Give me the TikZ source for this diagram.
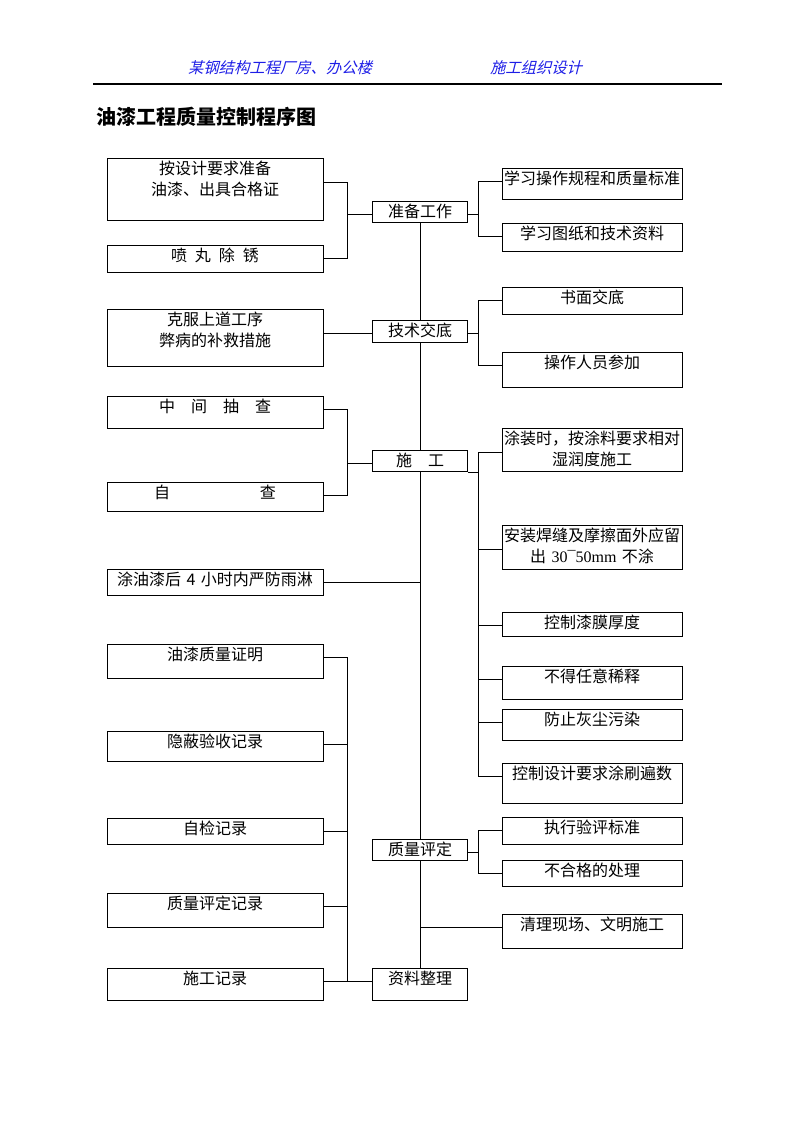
\documentclass[tikz,border=0pt]{standalone}
\usepackage{fontspec}
\newfontfamily\cjk{Noto Sans CJK SC}
\newfontfamily\cjkhead[FakeSlant=0.25]{Noto Sans CJK SC}
\newfontfamily\numfont{Liberation Serif}
\definecolor{headblue}{RGB}{30,30,230}
\tikzset{
  box/.style={draw, line width=0.75pt, anchor=north, inner sep=0pt, align=center, text height=12pt, font=\cjk\fontsize{12pt}{16pt}\selectfont},
  lbox/.style={box, text width=162pt, text depth=#1},
  cbox/.style={box, text width=71.25pt, text depth=#1},
  rbox/.style={box, text width=135pt, text depth=#1},
  head/.style={font=\cjkhead\fontsize{11.5pt}{14pt}\selectfont, text=headblue},
  line/.style={line width=0.75pt}
}
\begin{document}
\begin{tikzpicture}[x=0.75pt, y=-0.75pt]
    \useasboundingbox (0,0) rectangle (794,1123);
    % header
    \node[head] (hleft) at (280,68) {某钢结构工程厂房、办公楼};
    \node[head] (hright) at (536,68) {施工组织设计};
    \draw[line width=1pt] (93,84) -- (722,84);
    \node[anchor=west, inner sep=0pt, font=\cjk\bfseries\fontsize{15pt}{18pt}\selectfont] (title) at (96,117) {油漆工程质量控制程序图};

    % centre column
    \node[cbox=3.75pt] (zb) at (420,201) {准备工作};
    \node[cbox=4.5pt] (jd) at (420,320) {技术交底};
    \node[cbox=3.75pt] (sg) at (420,450) {施　工};
    \node[cbox=3.75pt] (zl) at (420,839) {质量评定};
    \node[cbox=12pt] (zz) at (420,968) {资料整理};

    % left column
    \node[lbox=34.5pt] (l1) at (215,158) {按设计要求准备\\油漆、出具合格证};
    \node[lbox=8.25pt] (l2) at (215,245) {喷\hspace{.5em}丸\hspace{.5em}除\hspace{.5em}锈};
    \node[lbox=30.75pt] (l3) at (215,309) {克服上道工序\\弊病的补救措施};
    \node[lbox=12pt] (l4) at (215,396) {中　间　抽　查};
    \node[lbox=9.75pt] (l5) at (215,482) {自\hspace{5.6em}查};
    \node[lbox=7.5pt] (l6) at (215,569) {涂油漆后 4 小时内严防雨淋};
    \node[lbox=13.5pt] (l7) at (215,644) {油漆质量证明};
    \node[lbox=10.5pt] (l8) at (215,731) {隐蔽验收记录};
    \node[lbox=7.5pt] (l9) at (215,818) {自检记录};
    \node[lbox=13.5pt] (l10) at (215,893) {质量评定记录};
    \node[lbox=12pt] (l11) at (215,968) {施工记录};

    % right column
    \node[rbox=11.25pt] (r1) at (592,168) {学习操作规程和质量标准};
    \node[rbox=9pt] (r2) at (592,223) {学习图纸和技术资料};
    \node[rbox=8.25pt] (r3) at (592,287) {书面交底};
    \node[rbox=14.25pt] (r4) at (592,352) {操作人员参加};
    \node[rbox=20.25pt] (r5) at (592,428) {涂装时，按涂料要求相对\\湿润度施工};
    \node[rbox=21pt] (r6) at (592,525) {安装焊缝及摩擦面外应留\\出 {\numfont 30¯50mm} 不涂};
    \node[rbox=6pt] (r7) at (592,612) {控制漆膜厚度};
    \node[rbox=12.75pt] (r8) at (592,666) {不得任意稀释};
    \node[rbox=11.25pt] (r9) at (592,709) {防止灰尘污染};
    \node[rbox=18pt] (r10) at (592,763) {控制设计要求涂刷遍数};
    \node[rbox=8.25pt] (r11) at (592,817) {执行验评标准};
    \node[rbox=7.5pt] (r12) at (592,860) {不合格的处理};
    \node[rbox=13.5pt] (r13) at (592,914) {清理现场、文明施工};

    % bracket lines and two-line tie points
    \coordinate (lb) at (347,0);
    \coordinate (rb) at (478,0);
    \coordinate (l1c) at ([yshift=-8pt]l1.mid east);
    \coordinate (r5c) at ([yshift=-8pt]r5.mid west);
    \coordinate (r6c) at ([yshift=-8pt]r6.mid west);

    % trunk
    \draw[line] (zb.south) -- (jd.north) (jd.south) -- (sg.north)
                (sg.south) -- (zl.north) (zl.south) -- (zz.north);

    % left side
    \draw[line] (l1c) -| (lb |- l2.mid east) -- (l2.mid east);
    \draw[line] (zb.mid west) -- (lb |- zb.mid west);
    \draw[line] (l3.east |- jd.mid west) -- (jd.mid west);
    \draw[line] (l4.mid east) -| (lb |- l5.mid east) -- (l5.mid east);
    \draw[line] (sg.mid west) -- (lb |- sg.mid west);
    \draw[line] (l6.mid east) -- (sg.south |- l6.mid east);
    \draw[line] (l7.mid east) -| (lb |- l11.mid east) -- (l11.mid east);
    \foreach \n in {l8,l9,l10}
        \draw[line] (\n.mid east) -- (lb |- \n.mid east);
    \draw[line] (zz.mid west) -- (lb |- zz.mid west);

    % right side
    \draw[line] (r1.mid west) -| (rb |- r2.mid west) -- (r2.mid west);
    \draw[line] (zb.mid east) -- (rb |- zb.mid east);
    \draw[line] (r3.mid west) -| (rb |- r4.mid west) -- (r4.mid west);
    \draw[line] (jd.mid east) -- (rb |- jd.mid east);
    \draw[line] (r5c) -| (rb |- r10.mid west) -- (r10.mid west);
    \draw[line] (r6c) -- (rb |- r6c);
    \foreach \n in {r7,r8,r9}
        \draw[line] (\n.mid west) -- (rb |- \n.mid west);
    \draw[line] (sg.south east) -- (rb |- sg.south east);
    \draw[line] (r11.mid west) -| (rb |- r12.mid west) -- (r12.mid west);
    \draw[line] (zl.mid east) -- (rb |- zl.mid east);
    \draw[line] (sg.south |- r13.mid west) -- (r13.mid west);
\end{tikzpicture}
\end{document}
